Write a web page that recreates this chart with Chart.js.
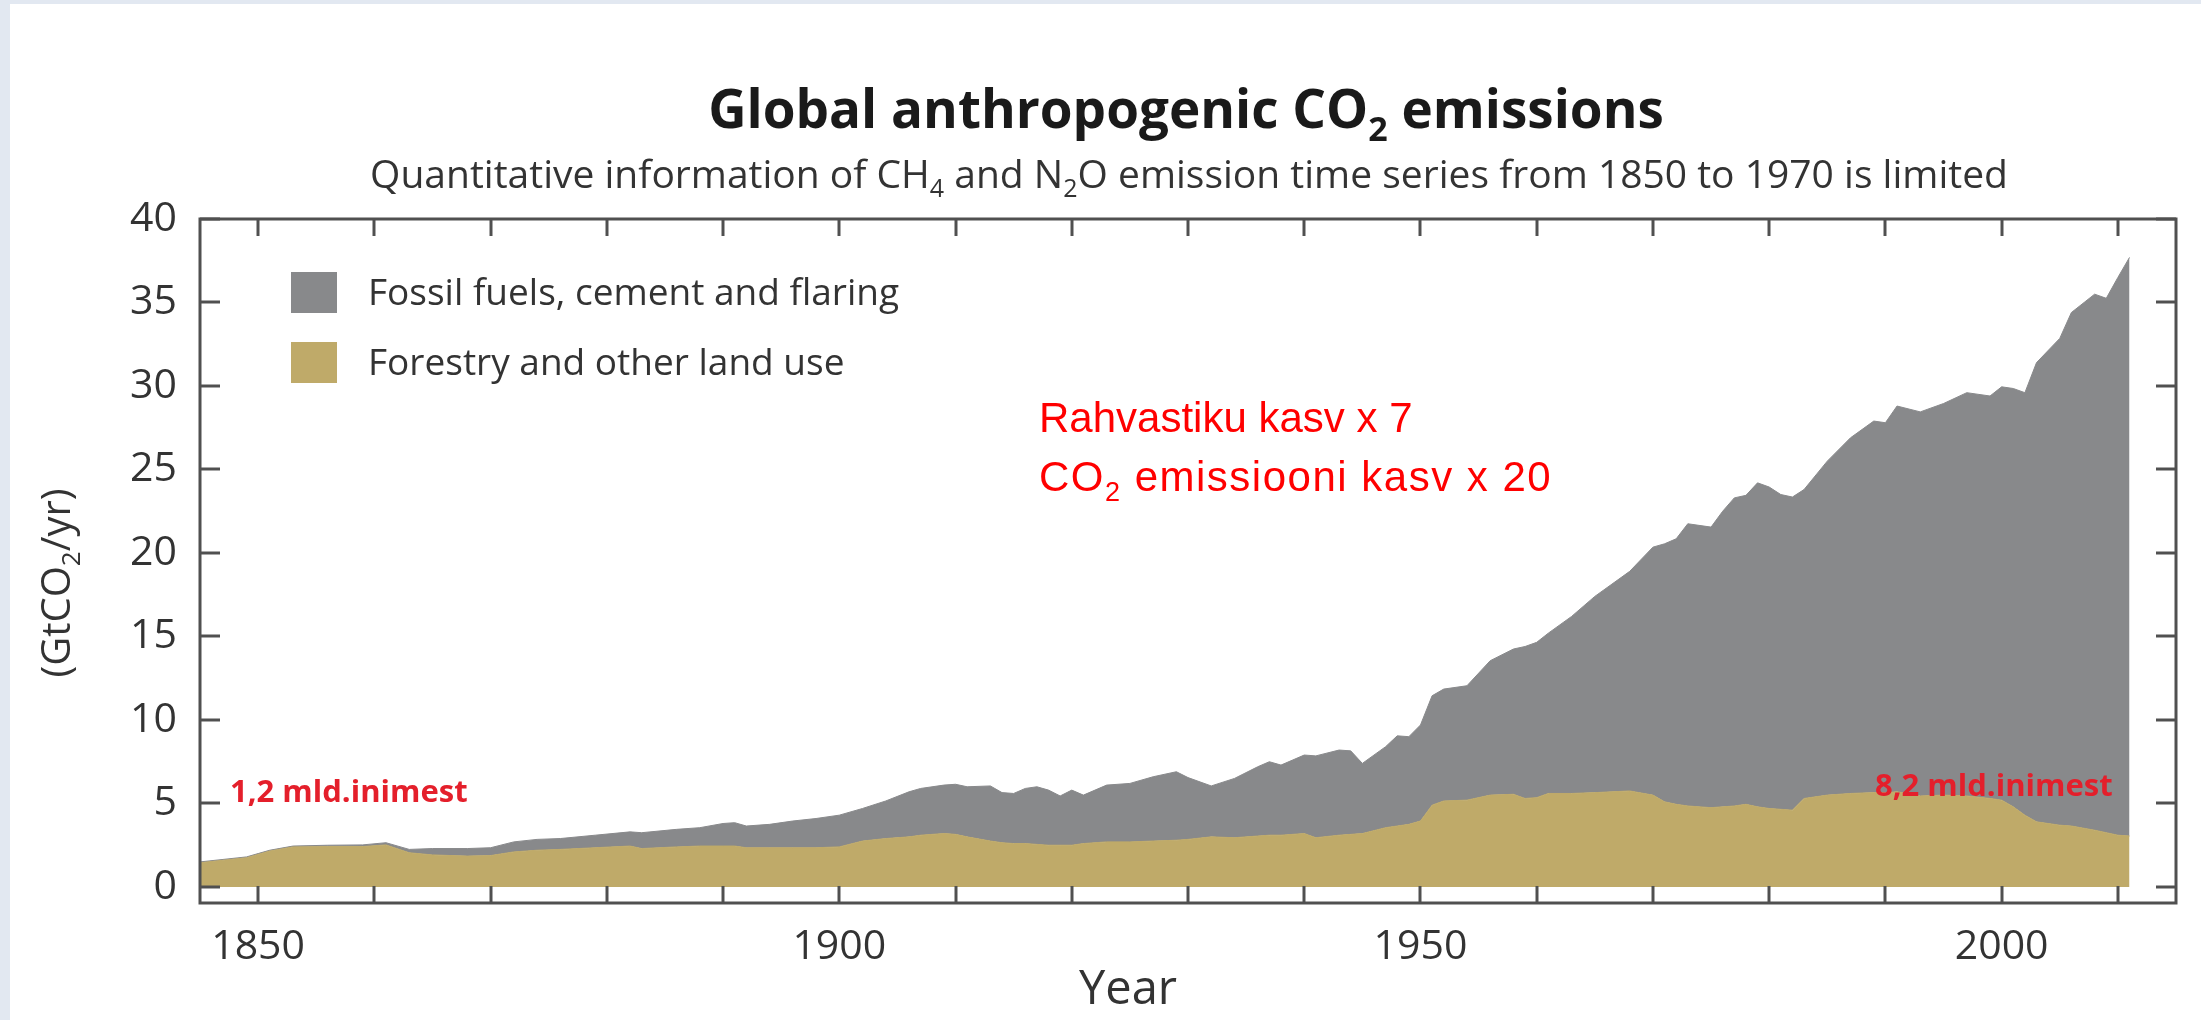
<!DOCTYPE html>
<html lang="et">
<head>
<meta charset="utf-8">
<title>Global anthropogenic CO2 emissions</title>
<script src="https://cdn.jsdelivr.net/npm/chart.js@4.4.1/dist/chart.umd.min.js"></script>
<style>
  html, body { margin: 0; padding: 0; }
  body {
    width: 2201px;
    height: 1020px;
    overflow: hidden;
    position: relative;
    background: #e2e8f1;
  }
  .sheet {
    position: absolute;
    left: 10px; top: 4px; right: 0; bottom: 0;
    background: #ffffff;
  }
  .wrap {
    position: absolute;
    left: 0; top: 0;
    width: 2201px; height: 1020px;
  }
</style>
</head>
<body>
<div class="sheet"></div>
<div class="wrap"><canvas id="chart"></canvas></div>

<script>
// values, GtCO2 per year
const years = [
  1845, 1849, 1850, 1851, 1853, 1856, 1859, 1861, 1863, 1865,
  1868, 1870, 1872, 1874, 1876, 1879, 1882, 1883, 1886, 1888,
  1890, 1891, 1892, 1894, 1896, 1898, 1900, 1902, 1904, 1906,
  1907, 1909, 1910, 1911, 1913, 1914, 1915, 1916, 1917, 1918,
  1919, 1920, 1921, 1923, 1925, 1927, 1929, 1930, 1932, 1934,
  1936, 1937, 1938, 1940, 1941, 1943, 1944, 1945, 1947, 1948,
  1949, 1950, 1951, 1952, 1954, 1956, 1958, 1959, 1960, 1961,
  1963, 1965, 1968, 1970, 1971, 1972, 1973, 1975, 1976, 1977,
  1978, 1979, 1980, 1981, 1982, 1983, 1985, 1987, 1989, 1990,
  1991, 1993, 1995, 1997, 1999, 2000, 2001, 2002, 2003, 2005,
  2006, 2008, 2009, 2010, 2011
];
// forestry and other land use (bottom layer)
const landUse = [
  1.45, 1.75, 1.95, 2.15, 2.4, 2.42, 2.42, 2.52, 2.05, 1.92,
  1.85, 1.88, 2.1, 2.2, 2.25, 2.35, 2.45, 2.3, 2.4, 2.45,
  2.45, 2.45, 2.35, 2.35, 2.35, 2.35, 2.4, 2.75, 2.9, 3.0,
  3.1, 3.2, 3.15, 3.0, 2.75, 2.65, 2.6, 2.6, 2.55, 2.5,
  2.5, 2.5, 2.6, 2.7, 2.7, 2.75, 2.8, 2.85, 3.0, 2.95,
  3.05, 3.1, 3.1, 3.2, 2.95, 3.1, 3.15, 3.2, 3.55, 3.65,
  3.75, 3.95, 4.9, 5.15, 5.2, 5.5, 5.55, 5.3, 5.35, 5.6,
  5.6, 5.65, 5.75, 5.5, 5.1, 4.95, 4.85, 4.75, 4.8, 4.85,
  4.95, 4.8, 4.7, 4.65, 4.6, 5.3, 5.5, 5.6, 5.65, 5.65,
  5.7, 5.45, 5.5, 5.45, 5.3, 5.2, 4.8, 4.3, 3.9, 3.7,
  3.65, 3.4, 3.25, 3.1, 3.05
];
// fossil fuels, cement and flaring (stacked on top)
const fossil = [
  0.05, 0.05, 0.05, 0.05, 0.05, 0.08, 0.1, 0.13, 0.2, 0.38,
  0.45, 0.47, 0.6, 0.65, 0.65, 0.75, 0.85, 0.95, 1.05, 1.1,
  1.35, 1.4, 1.3, 1.4, 1.6, 1.75, 1.9, 1.95, 2.25, 2.7,
  2.8, 2.9, 3.0, 3.0, 3.3, 3.0, 3.0, 3.3, 3.45, 3.3,
  2.95, 3.3, 2.9, 3.4, 3.5, 3.85, 4.1, 3.7, 3.05, 3.55,
  4.15, 4.4, 4.2, 4.7, 4.9, 5.1, 5.0, 4.2, 4.85, 5.4,
  5.25, 5.75, 6.55, 6.7, 6.85, 8.05, 8.7, 9.1, 9.3, 9.6,
  10.6, 11.75, 13.15, 14.85, 15.45, 15.9, 16.9, 16.8, 17.7, 18.45,
  18.5, 19.4, 19.25, 18.85, 18.75, 18.5, 20.0, 21.3, 22.25, 22.15,
  23.1, 23.0, 23.45, 24.15, 24.1, 24.75, 25.05, 25.3, 27.5, 29.15,
  30.75, 32.1, 32.0, 33.4, 34.65
];
const seriesNames = ["Forestry and other land use", "Fossil fuels, cement and flaring"];
const seriesColors = ["#bfaa69", "#88898b"];
const xTickValues = [1850, 1860, 1870, 1880, 1890, 1900, 1910, 1920, 1930, 1940, 1950, 1960, 1970, 1980, 1990, 2000, 2010];
const xTickLabels = [1850, 1900, 1950, 2000];
const yTickValues = [0, 5, 10, 15, 20, 25, 30, 35, 40];

const FONT = "'Open Sans', 'DejaVu Sans', sans-serif";
const RED_FONT = "'Liberation Sans', Arial, sans-serif";

// draws a line of text where some pieces are subscripts
function richText(ctx, parts, x, y, size, weight, family, align) {
  const setFont = (sub) => { ctx.font = `${weight} ${sub ? Math.round(size * 0.64) : size}px ${family}`; };
  let w = 0;
  parts.forEach(([t, sub]) => { setFont(sub); w += ctx.measureText(t).width; });
  let cx = align === "center" ? x - w / 2 : (align === "right" ? x - w : x);
  ctx.textAlign = "left";
  ctx.textBaseline = "alphabetic";
  parts.forEach(([t, sub]) => {
    setFont(sub);
    ctx.fillText(t, cx, sub ? y + size * 0.24 : y);
    cx += ctx.measureText(t).width;
  });
}

function seg(ctx, x1, y1, x2, y2) {
  ctx.beginPath();
  ctx.moveTo(x1, y1);
  ctx.lineTo(x2, y2);
  ctx.stroke();
}

const decor = {
  id: "decor",
  afterDatasetsDraw(chart) {
    const ctx = chart.ctx;
    const { left, right, top, bottom } = chart.chartArea;
    const xs = chart.scales.x, ys = chart.scales.y;
    ctx.save();

    // frame with inward ticks
    ctx.strokeStyle = "#505050";
    ctx.lineWidth = 3;
    ctx.strokeRect(left, top, right - left, bottom - top);
    xs.ticks.forEach(t => {
      const px = Math.round(xs.getPixelForValue(t.value));
      seg(ctx, px, bottom, px, bottom - 17);
      seg(ctx, px, top, px, top + 17);
    });
    ys.ticks.forEach(t => {
      const py = Math.round(ys.getPixelForValue(t.value));
      seg(ctx, left, py, left + 20, py);
      seg(ctx, right, py, right - 20, py);
    });

    // legend inside the plot, fossil first
    const order = [1, 0];
    order.forEach((di, i) => {
      const ds = chart.data.datasets[di];
      const y0 = 272 + i * 70;
      ctx.fillStyle = ds.backgroundColor;
      ctx.fillRect(291, y0, 46, 41);
      ctx.fillStyle = "#333333";
      ctx.font = `37px ${FONT}`;
      ctx.textAlign = "left";
      ctx.textBaseline = "middle";
      ctx.fillText(ds.label, 368, y0 + 22);
    });

    // titles
    ctx.fillStyle = "#1a1a1a";
    richText(ctx, [["Global anthropogenic CO", false], ["2", true], [" emissions", false]],
      1186, 128, 53, "bold", FONT, "center");
    ctx.fillStyle = "#333333";
    richText(ctx, [["Quantitative information of CH", false], ["4", true], [" and N", false], ["2", true],
      ["O emission time series from 1850 to 1970 is limited", false]],
      1189, 188, 39, "normal", FONT, "center");

    // y axis title, rotated
    ctx.save();
    ctx.translate(70, 583);
    ctx.rotate(-Math.PI / 2);
    richText(ctx, [["(GtCO", false], ["2", true], ["/yr)", false]], 0, 0, 40, "normal", FONT, "center");
    ctx.restore();

    // x axis title
    ctx.font = `47px ${FONT}`;
    ctx.textAlign = "center";
    ctx.textBaseline = "alphabetic";
    ctx.fillText("Year", 1128, 1004);

    // red notes
    ctx.fillStyle = "#ff0000";
    richText(ctx, [["Rahvastiku kasv x 7", false]], 1039, 432, 42, "normal", RED_FONT, "left");
    ctx.letterSpacing = "1.5px";
    richText(ctx, [["CO", false], ["2", true], [" emissiooni kasv x 20", false]], 1039, 491, 42, "normal", RED_FONT, "left");
    ctx.letterSpacing = "0px";
    ctx.fillStyle = "#e41f2b";
    richText(ctx, [["1,2 mld.inimest", false]], 230, 802, 31, "bold", FONT, "left");
    richText(ctx, [["8,2 mld.inimest", false]], 1875, 796, 31, "bold", FONT, "left");

    ctx.restore();
  }
};

new Chart(document.getElementById("chart"), {
  type: "line",
  data: {
    datasets: [
      {
        label: seriesNames[0],
        data: years.map((yr, i) => ({ x: yr, y: landUse[i] })),
        backgroundColor: seriesColors[0],
        borderColor: seriesColors[0],
        borderWidth: 1,
        fill: "origin",
        pointRadius: 0,
        tension: 0
      },
      {
        label: seriesNames[1],
        data: years.map((yr, i) => ({ x: yr, y: fossil[i] })),
        backgroundColor: seriesColors[1],
        borderColor: seriesColors[1],
        borderWidth: 1,
        fill: "-1",
        pointRadius: 0,
        tension: 0
      }
    ]
  },
  options: {
    responsive: true,
    maintainAspectRatio: false,
    animation: false,
    layout: { padding: { left: 0, top: 219, right: 25, bottom: 0 } },
    plugins: {
      legend: { display: false },
      tooltip: { enabled: false },
      title: { display: false }
    },
    scales: {
      x: {
        type: "linear",
        min: 1845,
        max: 2015,
        grid: { display: false, drawTicks: false },
        border: { display: false },
        afterBuildTicks: (s) => { s.ticks = xTickValues.map(v => ({ value: v })); },
        afterFit: (s) => { s.height = 117; },
        ticks: {
          autoSkip: false,
          maxRotation: 0,
          padding: 20,
          color: "#333333",
          font: { family: FONT, size: 41 },
          callback: (v) => (xTickLabels.includes(v) ? String(v) : "")
        }
      },
      y: {
        stacked: true,
        min: -0.96,
        max: 40,
        grid: { display: false, drawTicks: false },
        border: { display: false },
        afterBuildTicks: (s) => { s.ticks = yTickValues.map(v => ({ value: v })); },
        afterFit: (s) => { s.width = 200; },
        ticks: {
          autoSkip: false,
          padding: 23,
          color: "#333333",
          font: { family: FONT, size: 41 },
          callback: (v) => String(v)
        }
      }
    }
  },
  plugins: [decor]
});
</script>
</body>
</html>
